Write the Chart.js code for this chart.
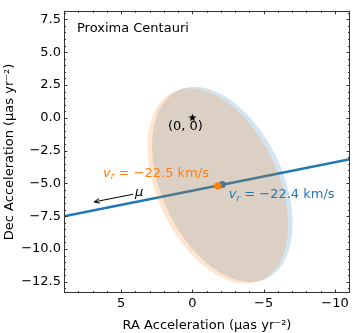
<!DOCTYPE html>
<html><head><meta charset="utf-8">
<script src="https://cdn.jsdelivr.net/npm/chart.js@4/dist/chart.umd.min.js"></script>
<style>html,body{margin:0;padding:0;background:#fff;}canvas{display:block;}</style>
</head><body>
<canvas id="c" width="357" height="333"></canvas>
<script>
// ---- data ----
const xTickValues = [5, 0, -5, -10];
const yTickValues = [7.5, 5, 2.5, 0, -2.5, -5, -7.5, -10, -12.5];
const xLimits = [-11.05, 9.0];
const yLimits = [-13.35, 8.15];
const motionLineX = [9.0, -11.05];
const motionLineY = [-7.5, -3.16];
const orangeCenter = [-1.78, -5.19];
const blueCenter = [-2.10, -5.08];
const ellipseSemiAxes = [7.82, 4.30];
const ellipseAngleDeg = 68.4;
const originPoint = [0, 0];
const vrValues = ['−22.5', '−22.4'];
const targetName = 'Proxima Centauri';
const xTitle = 'RA Acceleration (μas yr⁻²)';
const yTitle = 'Dec Acceleration (μas yr⁻²)';

// ---- styles ----
const BLUE = '#1f77b4', ORANGE = '#ff7f0e';
const FONT = "'DejaVu Sans', sans-serif";
Chart.defaults.font.family = FONT;
Chart.defaults.font.size = 13;
Chart.defaults.color = '#000';

// annotation anchors (data coords)
const orangeLabelAt = [6.26, -4.50];
const blueLabelAt = [-2.55, -6.15];
const arrowTail = [4.16, -5.83];
const arrowHead = [6.89, -6.41];
const muAt = [4.02, -5.98];
const originLabelAt = [0.49, -0.96];

function starCanvas(r) {
  const s = Math.ceil(r * 2 + 2);
  const c = document.createElement('canvas');
  c.width = s; c.height = s;
  const g = c.getContext('2d');
  g.fillStyle = '#000';
  g.beginPath();
  for (let i = 0; i < 10; i++) {
    const rr = i % 2 === 0 ? r : r * 0.4;
    const a = -Math.PI / 2 + i * Math.PI / 5;
    const px = s / 2 + rr * Math.cos(a), py = s / 2 + rr * Math.sin(a);
    i === 0 ? g.moveTo(px, py) : g.lineTo(px, py);
  }
  g.closePath(); g.fill();
  return c;
}

function fmtY(v) {
  const s = Math.abs(v).toFixed(1);
  return (v < 0 ? '−' : '') + s;
}
function fmtX(v) {
  return (v < 0 ? '−' : '') + Math.abs(v);
}

function drawEllipse(chart, center, color) {
  const ctx = chart.ctx, xs = chart.scales.x, ys = chart.scales.y;
  const cx = xs.getPixelForValue(center[0]), cy = ys.getPixelForValue(center[1]);
  const sx = xs.getPixelForValue(center[0] + 1) - cx;
  const sy = ys.getPixelForValue(center[1] + 1) - cy;
  ctx.save();
  const ca = chart.chartArea;
  ctx.beginPath(); ctx.rect(ca.left, ca.top, ca.right - ca.left, ca.bottom - ca.top); ctx.clip();
  ctx.save();
  ctx.translate(cx, cy);
  ctx.transform(sx, 0, 0, sy, 0, 0);
  ctx.rotate(ellipseAngleDeg * Math.PI / 180);
  ctx.beginPath();
  ctx.ellipse(0, 0, ellipseSemiAxes[0], ellipseSemiAxes[1], 0, 0, Math.PI * 2);
  ctx.restore();
  ctx.fillStyle = color;
  ctx.fill();
  ctx.restore();
}

function drawVr(ctx, x, y, val, color) {
  ctx.save();
  ctx.fillStyle = color;
  ctx.textBaseline = 'alphabetic';
  ctx.textAlign = 'left';
  ctx.font = 'oblique 13px ' + FONT;
  ctx.fillText('v', x, y);
  x += ctx.measureText('v').width;
  ctx.font = 'oblique 9px ' + FONT;
  ctx.fillText('r', x, y + 2.5);
  x += ctx.measureText('r').width;
  ctx.font = '13px ' + FONT;
  const rest = ' = ' + val + ' km/s';
  ctx.fillText(rest, x, y);
  ctx.restore();
}

const overlay = {
  id: 'overlay',
  beforeDatasetsDraw(chart) {
    drawEllipse(chart, blueCenter, 'rgba(31,119,180,0.2)');
  },
  afterDatasetDraw(chart, args) {
    if (args.index === 1) drawEllipse(chart, orangeCenter, 'rgba(255,127,14,0.2)');
  },
  afterDatasetsDraw(chart) {
    const ctx = chart.ctx, xs = chart.scales.x, ys = chart.scales.y, ca = chart.chartArea;
    const P = (p) => [xs.getPixelForValue(p[0]), ys.getPixelForValue(p[1])];
    ctx.save();
    ctx.fillStyle = '#000';
    ctx.font = '13px ' + FONT;
    ctx.textBaseline = 'alphabetic';
    ctx.fillText(targetName, ca.left + 13, ca.top + 21);
    const o = P(originLabelAt);
    ctx.textAlign = 'center';
    ctx.fillText('(0, 0)', o[0], o[1]);
    ctx.restore();
    const ol = P(orangeLabelAt), bl = P(blueLabelAt);
    drawVr(ctx, ol[0], ol[1], vrValues[0], ORANGE);
    drawVr(ctx, bl[0], bl[1], vrValues[1], BLUE);
    const t = P(arrowTail), h = P(arrowHead);
    ctx.save();
    ctx.strokeStyle = '#000'; ctx.lineWidth = 1;
    ctx.beginPath(); ctx.moveTo(t[0], t[1]); ctx.lineTo(h[0], h[1]); ctx.stroke();
    const ang = Math.atan2(h[1] - t[1], h[0] - t[0]);
    const hl = 6, ha = 0.4;
    ctx.beginPath();
    ctx.moveTo(h[0] - hl * Math.cos(ang - ha), h[1] - hl * Math.sin(ang - ha));
    ctx.lineTo(h[0], h[1]);
    ctx.lineTo(h[0] - hl * Math.cos(ang + ha), h[1] - hl * Math.sin(ang + ha));
    ctx.stroke();
    const m = P(muAt);
    ctx.fillStyle = '#000';
    ctx.font = 'oblique 13px ' + FONT;
    ctx.textBaseline = 'alphabetic';
    ctx.fillText('μ', m[0], m[1]);
    ctx.restore();
  },
  afterDraw(chart) {
    const ctx = chart.ctx, xs = chart.scales.x, ys = chart.scales.y, ca = chart.chartArea;
    ctx.save();
    ctx.strokeStyle = '#333';
    ctx.lineWidth = 1;
    ctx.strokeRect(Math.round(ca.left) + 0.5, Math.round(ca.top) + 0.5,
      Math.round(ca.right - ca.left) - 1, Math.round(ca.bottom - ca.top) - 1);
    ctx.beginPath();
    for (let v = Math.ceil(xLimits[0]); v <= Math.floor(xLimits[1]); v++) {
      const px = Math.round(xs.getPixelForValue(v)) + 0.5;
      const L = v % 5 === 0 ? 3.5 : 2;
      ctx.moveTo(px, ca.bottom); ctx.lineTo(px, ca.bottom - L);
      ctx.moveTo(px, ca.top); ctx.lineTo(px, ca.top + L);
    }
    for (let k = Math.ceil(yLimits[0] * 2); k <= Math.floor(yLimits[1] * 2); k++) {
      const v = k / 2;
      const py = Math.round(ys.getPixelForValue(v)) + 0.5;
      const L = k % 5 === 0 ? 3.5 : 2;
      ctx.moveTo(ca.left, py); ctx.lineTo(ca.left + L, py);
      ctx.moveTo(ca.right, py); ctx.lineTo(ca.right - L, py);
    }
    ctx.stroke();
    ctx.restore();
  }
};

new Chart(document.getElementById('c'), {
  type: 'scatter',
  data: {
    datasets: [
      { label: 'motion', order: 4, showLine: true, borderColor: BLUE, borderWidth: 2.5, pointRadius: 0,
        data: motionLineX.map((x, i) => ({ x, y: motionLineY[i] })) },
      { label: 'blue', order: 3, pointRadius: 3.5, backgroundColor: BLUE, borderColor: BLUE, borderWidth: 0,
        data: [{ x: blueCenter[0], y: blueCenter[1] }] },
      { label: 'orange', order: 2, pointRadius: 3.7, backgroundColor: ORANGE, borderColor: ORANGE, borderWidth: 0,
        data: [{ x: orangeCenter[0], y: orangeCenter[1] }] },
      { label: 'origin', order: 1, pointStyle: starCanvas(4.3), borderWidth: 0,
        data: [{ x: originPoint[0], y: originPoint[1] }] }
    ]
  },
  options: {
    responsive: false,
    animation: false,
    devicePixelRatio: 1,
    layout: { padding: { left: 0, top: 7, right: 7, bottom: 0 } },
    plugins: { legend: { display: false }, tooltip: { enabled: false } },
    scales: {
      x: {
        type: 'linear', reverse: true, min: xLimits[0], max: xLimits[1],
        grid: { display: false, drawTicks: false }, border: { display: false },
        afterBuildTicks: (s) => { s.ticks = xTickValues.map(v => ({ value: v })); },
        afterFit: (s) => { s.height = 40; },
        ticks: { padding: 3, maxRotation: 0, autoSkip: false, callback: (v) => fmtX(v), font: { size: 13 }, color: '#000' },
        title: { display: true, text: xTitle, font: { size: 13 }, color: '#000', padding: { top: 3, bottom: 0 } }
      },
      y: {
        type: 'linear', min: yLimits[0], max: yLimits[1],
        grid: { display: false, drawTicks: false }, border: { display: false },
        afterBuildTicks: (s) => { s.ticks = yTickValues.map(v => ({ value: v })); },
        afterFit: (s) => { s.width = 64; },
        ticks: { padding: 3, autoSkip: false, callback: (v) => fmtY(v), font: { size: 13 }, color: '#000' },
        title: { display: true, text: yTitle, font: { size: 13 }, color: '#000', padding: { top: 2, bottom: 0 } }
      }
    }
  },
  plugins: [overlay]
});
</script>
</body></html>
